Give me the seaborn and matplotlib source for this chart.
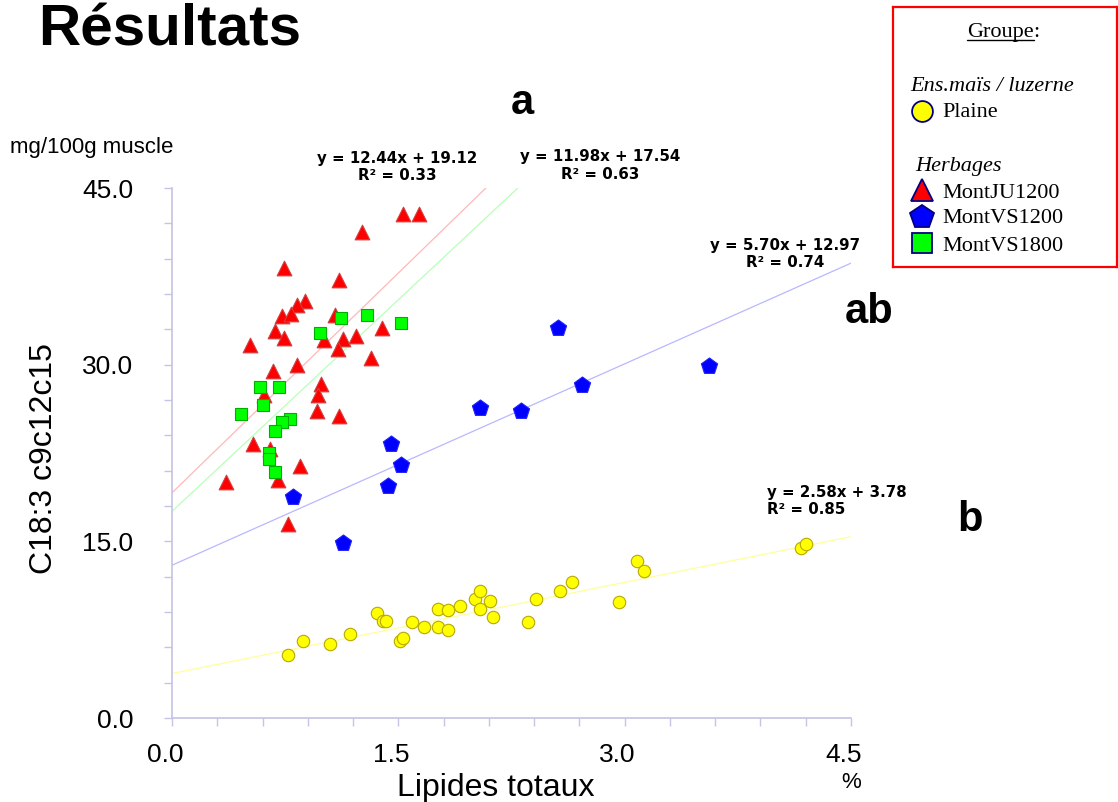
"""Résultats - C18:3 c9c12c15 vs lipides totaux, par groupe de pâturage."""
import matplotlib

matplotlib.use("Agg")
import matplotlib.pyplot as plt
import matplotlib.transforms as mtransforms
from matplotlib.ticker import MultipleLocator, FormatStrFormatter
import numpy as np
import pandas as pd
import seaborn as sns

sns.set_theme(style="white")
plt.rcParams["font.family"] = ["Liberation Sans", "DejaVu Sans"]
plt.rcParams.update({"text.color": "black", "axes.labelcolor": "black",
                     "xtick.labelcolor": "black", "ytick.labelcolor": "black"})

W, H, DPI = 1118, 802, 100
AXIS_COL = "#c4c4e4"

# --- data --------------------------------------------------------------------
plaine_x = [0.77, 0.87, 1.05, 1.18, 1.36, 1.40, 1.42, 1.51, 1.53, 1.59, 1.67, 1.76,
            1.83, 1.76, 1.83, 1.91, 2.01, 2.04, 2.04, 2.11, 2.13, 2.36, 2.41, 2.57,
            2.65, 2.96, 3.08, 3.13, 4.17, 4.20]
plaine_y = [5.35, 6.56, 6.25, 7.10, 8.88, 8.23, 8.26, 6.54, 6.76, 8.15, 7.75, 7.75,
            7.44, 9.25, 9.14, 9.51, 10.10, 10.78, 9.22, 9.93, 8.57, 8.15, 10.13, 10.78,
            11.54, 9.85, 13.35, 12.50, 14.46, 14.74]

ju1200_x = [1.53, 1.64, 1.26, 0.74, 1.11, 0.88, 0.83, 0.73, 0.79, 1.08, 0.68, 0.74,
            0.52, 1.01, 1.13, 1.22, 1.39, 1.10, 1.32, 0.83, 0.67, 0.99, 0.97, 0.61,
            0.96, 1.11, 0.54, 0.65, 0.85, 0.36, 0.70, 0.77]
ju1200_y = [42.8, 42.8, 41.3, 38.2, 37.2, 35.4, 35.1, 34.1, 34.3, 34.2, 32.9, 32.3,
            31.7, 32.1, 32.2, 32.4, 33.1, 31.3, 30.6, 30.0, 29.5, 28.4, 27.4, 27.4,
            26.1, 25.6, 23.3, 22.8, 21.4, 20.0, 20.2, 16.5]

vs1200_x = [2.56, 3.56, 2.72, 2.04, 2.31, 1.45, 1.52, 1.43, 0.80, 1.13]
vs1200_y = [33.1, 29.9, 28.3, 26.3, 26.1, 23.3, 21.5, 19.7, 18.8, 14.9]

vs1800_x = [1.12, 1.29, 1.52, 0.98, 0.58, 0.71, 0.60, 0.46, 0.78, 0.73, 0.68, 0.64,
            0.64, 0.68]
vs1800_y = [34.0, 34.2, 33.5, 32.7, 28.1, 28.1, 26.6, 25.8, 25.4, 25.1, 24.4, 22.5,
            22.0, 20.9]

groups = ["Plaine", "MontJU1200", "MontVS1200", "MontVS1800"]
slopes = [2.58, 12.44, 5.70, 11.98]
intercepts = [3.78, 19.12, 12.97, 17.54]
r2 = [0.85, 0.33, 0.74, 0.63]

# --- styles -------------------------------------------------------------------
fill = {"Plaine": "#ffff00", "MontJU1200": "#ff0000",
        "MontVS1200": "#0000ff", "MontVS1800": "#00ff00"}
edge = {"Plaine": "#b8a800", "MontJU1200": "#d04040",
        "MontVS1200": "#2020ff", "MontVS1800": "#00b000"}
line_col = {"Plaine": "#ffff99", "MontJU1200": "#ffb8b8",
            "MontVS1200": "#b8b8ff", "MontVS1800": "#b8ffb8"}
marker = {"Plaine": "o", "MontJU1200": "^", "MontVS1200": "p", "MontVS1800": "s"}
msize = {"Plaine": 80, "MontJU1200": 112, "MontVS1200": 150, "MontVS1800": 80}

df = pd.concat([
    pd.DataFrame({"lip": plaine_x, "c183": plaine_y, "groupe": "Plaine"}),
    pd.DataFrame({"lip": ju1200_x, "c183": ju1200_y, "groupe": "MontJU1200"}),
    pd.DataFrame({"lip": vs1200_x, "c183": vs1200_y, "groupe": "MontVS1200"}),
    pd.DataFrame({"lip": vs1800_x, "c183": vs1800_y, "groupe": "MontVS1800"}),
], ignore_index=True)

fig = plt.figure(figsize=(W / DPI, H / DPI), dpi=DPI)
ax = fig.add_axes([172 / W, 84 / H, 679 / W, 530 / H])

# trend lines, cut where they leave the plot area
for g, m, b in zip(groups, slopes, intercepts):
    x_end = min(4.5, (45 - b) / m)
    xs = np.array([0.0, x_end])
    ax.plot(xs, m * xs + b, color=line_col[g], lw=0.9, zorder=1)

for g in groups:
    sns.scatterplot(data=df[df["groupe"] == g], x="lip", y="c183", ax=ax,
                    marker=marker[g], s=msize[g], color=fill[g],
                    edgecolor=edge[g], linewidth=0.8, legend=False, zorder=3)

ax.set_xlim(0, 4.5)
ax.set_ylim(0, 45)
ax.xaxis.set_major_locator(MultipleLocator(1.5))
ax.xaxis.set_minor_locator(MultipleLocator(0.3))
ax.yaxis.set_major_locator(MultipleLocator(15))
ax.yaxis.set_minor_locator(MultipleLocator(3))
ax.xaxis.set_major_formatter(FormatStrFormatter("%.1f"))
ax.yaxis.set_major_formatter(FormatStrFormatter("%.1f"))
for s in ["top", "right"]:
    ax.spines[s].set_visible(False)
for s in ["left", "bottom"]:
    ax.spines[s].set_color(AXIS_COL)
    ax.spines[s].set_linewidth(1.2)
ax.tick_params(which="both", direction="out", length=5.8, width=1, color=AXIS_COL,
               bottom=True, left=True)
ax.tick_params(axis="x", which="major", labelsize=19, pad=12, labelcolor="black")
ax.tick_params(axis="y", which="major", labelsize=19, pad=22, labelcolor="black")
shift = mtransforms.ScaledTranslation(-7 / DPI, 0, fig.dpi_scale_trans)
for lab in ax.get_xticklabels():
    lab.set_transform(lab.get_transform() + shift)

ax.set_xlabel("Lipides totaux", fontsize=23, color="black")
ax.xaxis.set_label_coords(0.477, -0.147)
ax.xaxis.label.set_va("baseline")
ax.set_ylabel("C18:3 c9c12c15", fontsize=23, color="black")
ax.yaxis.set_label_coords(-0.1767, 0.489)
ax.yaxis.label.set_va("baseline")

# regression equations
eq_font = dict(family="DejaVu Sans", fontweight="bold", fontsize=10.8,
               clip_on=False, linespacing=1.2, color="black")
eq_pos = {"MontJU1200": (1.491, 46.8, "center"), "MontVS1800": (2.836, 46.9, "center"),
          "MontVS1200": (4.066, 39.4, "center"), "Plaine": (3.941, 18.4, "left")}
for g, m, b, r in zip(groups, slopes, intercepts, r2):
    x, y, ha = eq_pos[g]
    ax.text(x, y, f"y = {m:.2f}x + {b:.2f}\nR² = {r:.2f}", ha=ha, va="center",
            multialignment=ha, **eq_font)

# significance letters
for txt, x, y in [("a", 2.319, 51.3), ("ab", 4.619, 33.5), ("b", 5.288, 15.9)]:
    ax.text(x, y, txt, fontsize=30, fontweight="bold", ha="center", va="baseline",
            clip_on=False, color="black")

fig.text(38 / W, 1 - 45 / H, "Résultats", fontsize=42, fontweight="bold",
         va="baseline", color="black")
fig.text(10 / W, 1 - 153 / H, "mg/100g muscle", fontsize=16, va="baseline")
fig.text(851 / W, 1 - 788 / H, "%", fontsize=16, ha="center", va="baseline")

# legend box, drawn in pixel units
lax = fig.add_axes([893 / W, (H - 267) / H, 224 / W, 260 / H])
lax.set_xlim(0, 224)
lax.set_ylim(260, 0)
lax.set_xticks([])
lax.set_yticks([])
lax.set_facecolor("white")
for s in lax.spines.values():
    s.set_color("#ff0000")
    s.set_linewidth(1.6)

serif = ["Liberation Serif", "DejaVu Serif"]
t = lax.text(74, 30, "Groupe", family=serif, fontsize=16, va="baseline")
fig.canvas.draw()
bb = t.get_window_extent(fig.canvas.get_renderer()).transformed(lax.transData.inverted())
lax.plot([bb.x0, bb.x1], [33, 33], color="black", lw=1)
lax.text(bb.x1, 30, ":", family=serif, fontsize=16, va="baseline")
lax.text(17.7, 83.7, "Ens.maïs / luzerne", family=serif, style="italic", fontsize=16,
         va="baseline")
lax.text(22, 163.7, "Herbages", family=serif, style="italic", fontsize=16, va="baseline")

leg_rows = [("Plaine", 104, 110.3, 15), ("MontJU1200", 183, 190.7, 15.6),
            ("MontVS1200", 209.7, 216.3, 17.7), ("MontVS1800", 236.3, 243.7, 13.7)]
for g, ym, yt, ms in leg_rows:
    lax.plot([29.3], [ym], marker=marker[g], ms=ms, mfc=fill[g], mec="#000080",
             mew=1.3, ls="none")
    lax.text(49.3, yt, g, family=serif, fontsize=16, va="baseline")

fig.savefig("out.png", dpi=DPI)
